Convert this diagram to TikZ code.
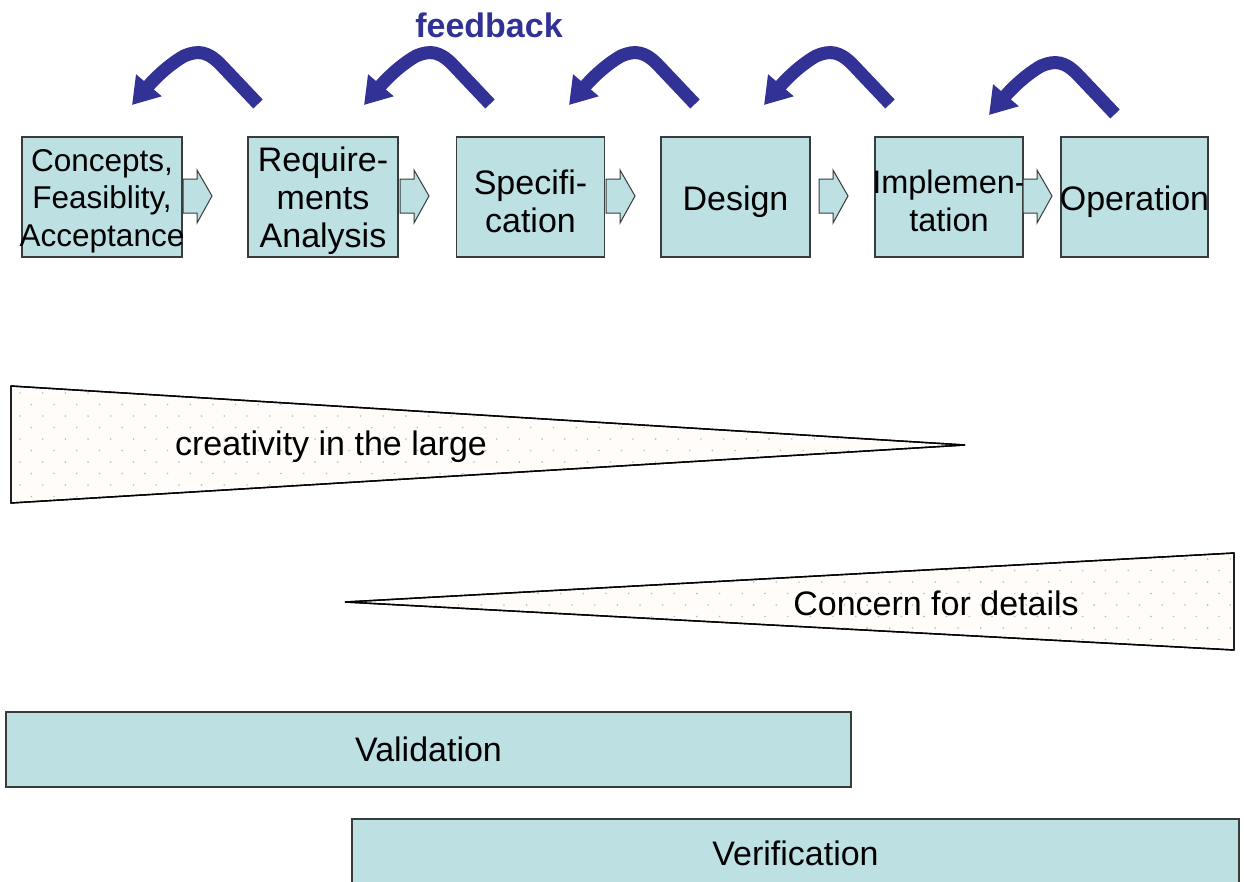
\documentclass[tikz,border=0pt]{standalone}
\usepackage{fontspec}
\setmainfont{Liberation Sans}
\usetikzlibrary{arrows.meta}
\definecolor{boxfill}{RGB}{189,224,227}
\definecolor{boxline}{RGB}{55,60,60}
\definecolor{navy}{RGB}{50,50,150}
\definecolor{dotc}{RGB}{190,190,190}
\definecolor{trifill}{RGB}{255,252,249}
\tikzset{
  stage/.style={draw=boxline, fill=boxfill, line width=1.3pt, inner sep=0pt, minimum height=120pt},
  lbl/.style={align=center, inner sep=0pt, font=\fontsize{34}{38}\selectfont},
  bigtxt/.style={inner sep=0pt, font=\fontsize{34}{40}\selectfont},
  blockarrow/.style={draw=boxline, fill=boxfill, line width=1pt, line join=miter},
  fback/.style={draw=navy, line width=13pt, -{Triangle[length=26pt,width=32pt]}},
  wedge/.style={draw=black, line width=1.4pt, fill=trifill, line join=miter},
}
\begin{document}
\begin{tikzpicture}[x=1pt,y=-1pt]
\useasboundingbox (0,0) rectangle (1244,881);
\fill[white] (0,0) rectangle (1244,881);

% feedback label
\node[inner sep=0pt, text=navy, font=\bfseries\fontsize{34}{40}\selectfont] (fb) at (489,25) {feedback};

% stage boxes
\node[stage, minimum width=160pt] (c1) at (102,197) {};
\node[stage, minimum width=150pt] (c2) at (323,197) {};
\node[stage, minimum width=148.5pt] (c3) at (530.5,197) {};
\node[stage, minimum width=149pt] (c4) at (735.5,197) {};
\node[stage, minimum width=148pt] (c5) at (949,197) {};
\node[stage, minimum width=147pt] (c6) at (1134.5,197) {};

\node[lbl, font=\fontsize{31.5}{37.5}\selectfont] (t1) at ([yshift=-4pt]c1.center) {Concepts,\\Feasiblity,\\Acceptance};
\node[lbl] (t2) at ([yshift=-4pt]c2.center) {Require-\\ments\\Analysis};
\node[lbl] (t3) at ([yshift=-4pt]c3.center) {Specifi-\\cation};
\node[lbl] (t4) at ([yshift=-5pt]c4.center) {Design};
\node[lbl, font=\fontsize{32.5}{38}\selectfont] (t5) at ([yshift=-4pt]c5.center) {Implemen-\\tation};
\node[lbl] (t6) at ([yshift=-5pt]c6.center) {Operation};

% block arrows between stages
\foreach \x in {183,400,606,819,1023}{
  \draw[blockarrow] (\x,179) -- ++(14,0) -- ++(0,-9) -- ++(15,26) -- ++(-15,27) -- ++(0,-10) -- ++(-14,0) -- cycle;
}

% feedback arrows
\foreach \tx/\ty in {258/104, 490/104, 695/104, 890/104, 1115/114}{
  \draw[fback] (\tx,\ty) -- ++(-36,-38)
     .. controls ++(-14,-15) and ++(14,-6) .. ++(-38,-10)
     .. controls ++(-14,8) and ++(24,-28) .. ++(-52,49);
}

% creativity wedge
\path[wedge] (11,386) -- (965,445) -- (11,503) -- cycle;
\begin{scope}
  \clip (11,386) -- (965,445) -- (11,503) -- cycle;
  \foreach \i in {0,...,10}{
    \foreach \j in {0,...,42}{
      \pgfmathsetmacro\dx{20+22.7*\j+11.35*mod(\i,2)}
      \pgfmathsetmacro\dy{393+11.5*\i}
      \fill[dotc] (\dx,\dy) circle (0.9pt);
    }
  }
\end{scope}
\draw[line width=1.4pt, line join=miter] (11,386) -- (965,445) -- (11,503) -- cycle;
\node[bigtxt] (cre) at (331,446.5) {creativity in the large};

% concern wedge
\path[wedge] (345,602) -- (1234,553) -- (1234,650) -- cycle;
\begin{scope}
  \clip (345,602) -- (1234,553) -- (1234,650) -- cycle;
  \foreach \i in {0,...,9}{
    \foreach \j in {0,...,40}{
      \pgfmathsetmacro\dx{345+22.7*\j+11.35*mod(\i,2)}
      \pgfmathsetmacro\dy{559+11.5*\i}
      \fill[dotc] (\dx,\dy) circle (0.9pt);
    }
  }
\end{scope}
\draw[line width=1.4pt, line join=miter] (345,602) -- (1234,553) -- (1234,650) -- cycle;
\node[bigtxt] (con) at (936,603) {Concern for details};

% validation / verification bars
\node[stage, minimum width=845pt, minimum height=75pt] (val) at (428.5,749.5) {};
\node[bigtxt] (valt) at (val) {Validation};
\node[stage, minimum width=887pt, minimum height=68pt] (ver) at (795.5,853) {};
\node[bigtxt] (vert) at (ver) {Verification};
\end{tikzpicture}
\end{document}
